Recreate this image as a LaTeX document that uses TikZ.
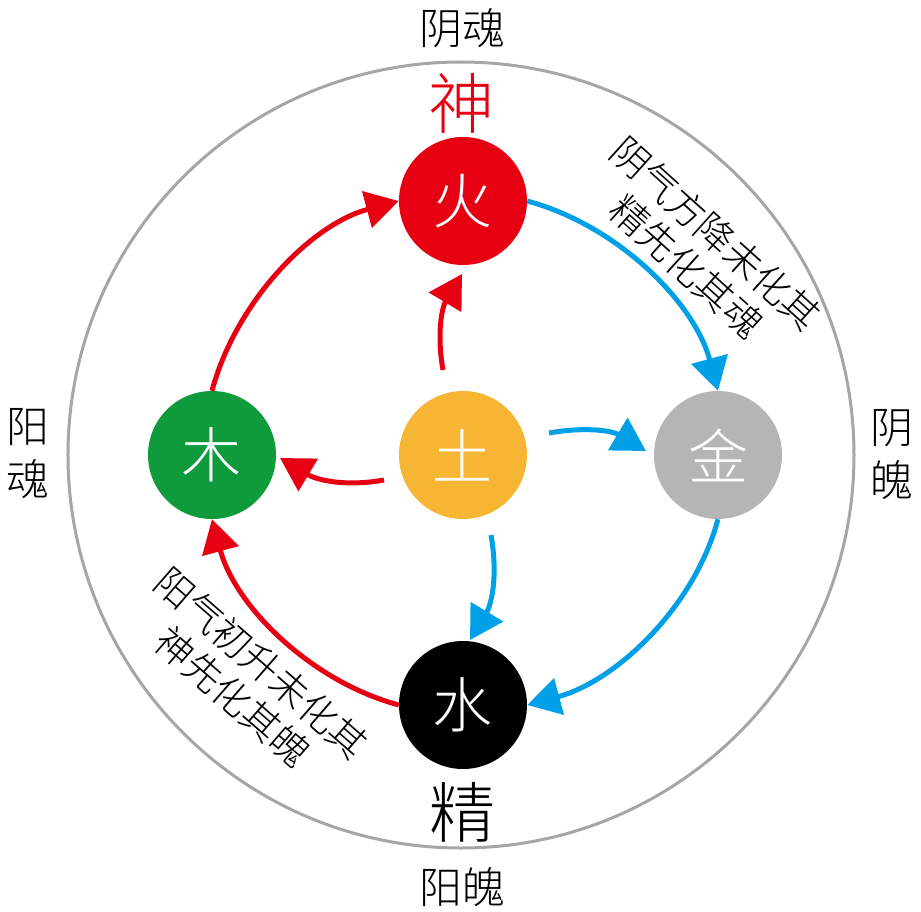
\documentclass[tikz,border=0pt]{standalone}
\usepackage{fontspec}
\IfFontExistsTF{Noto Sans CJK SC Light}{\setmainfont{Noto Sans CJK SC Light}}{\setmainfont{Noto Sans CJK SC}}
\usetikzlibrary{arrows.meta}
\definecolor{cred}{RGB}{230,0,18}
\definecolor{cblue}{RGB}{0,160,233}
\definecolor{cgreen}{RGB}{15,154,60}
\definecolor{cyellow}{RGB}{246,182,52}
\definecolor{cgray}{RGB}{181,181,181}
\definecolor{ring}{RGB}{166,166,166}
\begin{document}
\begin{tikzpicture}[x=1pt,y=1pt,
  elem/.style={circle, minimum size=128pt, inner sep=0pt, text=white, font=\fontsize{60}{60}\selectfont},
  lbl/.style={inner sep=0pt, align=center, font=\fontsize{43}{53}\selectfont},
  big/.style={inner sep=0pt, font=\fontsize{66}{66}\selectfont},
  note/.style={inner sep=0pt, align=center, font=\fontsize{38}{44}\selectfont},
  arr/.style={line width=5pt, -{Triangle[length=33pt,width=37pt]}},
  redarr/.style={arr, draw=cred},
  bluearr/.style={arr, draw=cblue}
]
\useasboundingbox (-463,-456) rectangle (458,455);
% outer ring
\coordinate (ringc) at (-2,0);
\draw[ring, line width=3pt] (ringc) circle[radius=393pt];

% elements
\node[elem, fill=cred]    (huo)  at (0,254)  {火};
\node[elem, fill=cgreen]  (mu)   at (-251,0) {木};
\node[elem, fill=cyellow] (tu)   at (0,0)    {土};
\node[elem, fill=cgray]   (jin)  at (255,0)  {金};
\node[elem, fill=black]   (shui) at (0,-250) {水};

% labels
\node[lbl] (topl)   at (0,427)   {阴魂};
\node[lbl] (botl)   at (0,-432)  {阳魄};
\node[lbl] (leftl)  at (-435,1)  {阳\\魂};
\node[lbl] (rightl) at (429,1)   {阴\\魄};
\node[big, text=cred] (shen) at (-1,352)  {神};
\node[big] (jing) at (0,-357) {精};

\node[note, rotate=-42] (noteA) at (238,205)  {阴气方降未化其\\精先化其魂};
\node[note, rotate=-41] (noteB) at (-216,-225) {阳气初升未化其\\神先化其魄};

% outer cycle
\draw[redarr]  (mu.north)  to[out=75,  in=195, looseness=0.88] (huo.west);
\draw[bluearr] (huo.east)  to[out=-15, in=105, looseness=0.88] (jin.north);
\draw[bluearr] (jin.south) to[out=-105,in=15,  looseness=0.88] (shui.east);
\draw[redarr]  (shui.west) to[out=165, in=-75, looseness=0.88] (mu.south);

% inner arrows from earth
\coordinate (u1) at (-20,85);  \coordinate (u2) at (-1,181);
\coordinate (l1) at (-79,-25); \coordinate (l2) at (-183,-3);
\coordinate (r1) at (86,22);   \coordinate (r2) at (183,4);
\coordinate (d1) at (28,-80);  \coordinate (d2) at (7,-185);
\draw[redarr]  (u1) to[out=100, in=239] (u2);
\draw[redarr]  (l1) to[out=190, in=329] (l2);
\draw[bluearr] (r1) to[out=10,  in=149] (r2);
\draw[bluearr] (d1) to[out=280, in=59]  (d2);
\end{tikzpicture}
\end{document}
